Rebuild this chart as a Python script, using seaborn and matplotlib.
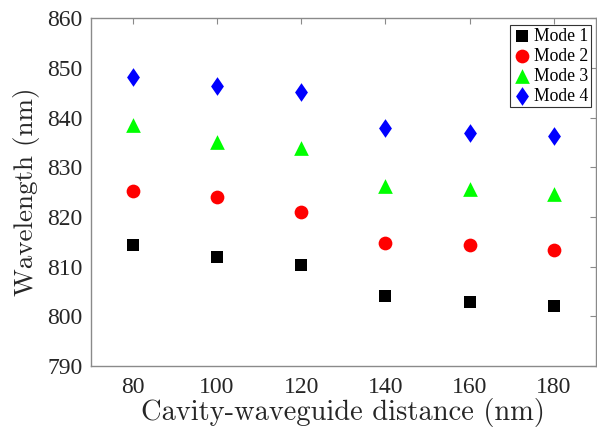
import matplotlib
matplotlib.use("Agg")
import matplotlib.pyplot as plt
from matplotlib.path import Path
import seaborn as sns

# Cavity-waveguide distance (nm)
distance = [80, 100, 120, 140, 160, 180]

# Resonance wavelength (nm) of each mode
mode1 = [814.3, 811.9, 810.4, 804.0, 802.8, 802.0]
mode2 = [825.3, 823.9, 821.0, 814.7, 814.3, 813.4]
mode3 = [838.5, 835.1, 833.9, 826.2, 825.6, 824.6]
mode4 = [848.2, 846.3, 845.2, 837.8, 836.9, 836.3]

labels = ["Mode 1", "Mode 2", "Mode 3", "Mode 4"]
xticks = [80, 100, 120, 140, 160, 180]
yticks = [790, 800, 810, 820, 830, 840, 850, 860]

sns.set_theme(style="white")
plt.rcParams["font.family"] = ["Liberation Serif", "DejaVu Serif"]

tall_diamond = Path([(0, 1), (0.69, 0), (0, -1), (-0.69, 0), (0, 1)],
                    [Path.MOVETO, Path.LINETO, Path.LINETO, Path.LINETO, Path.CLOSEPOLY])

styles = [
    dict(marker="s", color="#000000", s=66),
    dict(marker="o", color="#ff0000", s=98),
    dict(marker="^", color="#00ff00", s=112),
    dict(marker=tall_diamond, color="#0000ff", s=180),
]

fig = plt.figure(figsize=(5.97, 4.33), dpi=100)
ax = fig.add_axes([0.152, 0.155, 0.846, 0.803])

for ys, lab, st in zip([mode1, mode2, mode3, mode4], labels, styles):
    sns.scatterplot(x=distance, y=ys, ax=ax, label=lab, marker=st["marker"],
                    color=st["color"], s=st["s"], linewidth=0, zorder=3)

ax.set_xlim(70, 190)
ax.set_ylim(790, 860)
ax.set_xticks(xticks)
ax.set_yticks(yticks)

spine_col = "#8a8a8a"
for sp in ax.spines.values():
    sp.set_color(spine_col)
    sp.set_linewidth(1.0)

ax.tick_params(direction="in", length=4, width=0.8, color=spine_col,
               top=True, right=True, labelsize=17, labelcolor="#262626")
ax.tick_params(axis="x", pad=8)
ax.tick_params(axis="y", pad=6)

ax.set_xlabel("Cavity-waveguide distance (nm)",
              fontdict=dict(family="cmr10", size=20.5, color="#262626"), labelpad=0)
ax.set_ylabel("Wavelength (nm)",
              fontdict=dict(family="cmr10", size=19.5, color="#262626"), labelpad=5)

leg = ax.legend(loc="upper right", bbox_to_anchor=(0.99, 0.98), fontsize=12.7,
                frameon=True, fancybox=False, edgecolor="#333333", framealpha=1,
                borderpad=0.15, handlelength=1.0, handletextpad=0.2,
                labelspacing=0.17, borderaxespad=0.0, markerscale=1.0)
leg.get_frame().set_linewidth(0.8)
for t in leg.get_texts():
    t.set_color("#000000")

fig.savefig("out.png", dpi=100)
